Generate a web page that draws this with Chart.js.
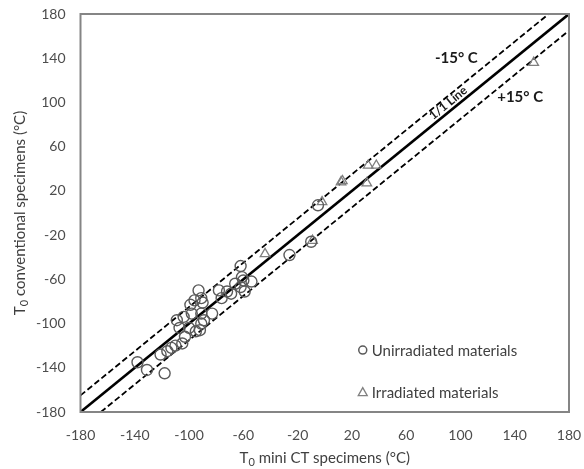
<!DOCTYPE html>
<html>
<head>
<meta charset="utf-8">
<script src="https://cdn.jsdelivr.net/npm/chart.js@4.4.0/dist/chart.umd.min.js"></script>
<style>
  html, body { margin: 0; padding: 0; background: #ffffff; }
  #wrap { width: 584px; height: 469px; position: relative; }
</style>
</head>
<body>
<div id="wrap"><canvas id="c"></canvas></div>
<script>
// Axis range and tick labels (°C)
const axisMin = -180;
const axisMax = 180;
const tickValues = [-180, -140, -100, -60, -20, 20, 60, 100, 140, 180];

// T0 from mini CT specimens (x) vs conventional specimens (y), °C
const unirradiated = [
  [-138, -135], [-131, -142], [-118, -145], [-121, -128], [-116, -125],
  [-113, -122], [-110, -120], [-105, -118], [-103, -112], [-107, -104],
  [-109, -97], [-104, -94], [-100, -104], [-99, -83], [-98, -91],
  [-96, -79], [-93, -70], [-91, -77], [-90, -81], [-91, -91],
  [-89, -97], [-91, -100], [-92, -106], [-95, -107], [-83, -91],
  [-78, -70], [-76, -77], [-72, -71], [-69, -73], [-66, -64],
  [-62, -67], [-59, -71], [-54, -62], [-61, -58], [-62, -48],
  [-60, -61], [-26, -38], [-10, -26], [-5, 7]
];
const irradiated = [
  [-44, -37], [-9, -25], [-2, 10], [12, 28], [13, 29],
  [31, 27], [32, 43], [38, 43], [154, 136]
];

// 1/1 reference line and the ±15 °C scatter band
const refEnds = [axisMin, axisMax];
const bandOffset = 15;

const oneToOne = refEnds.map(v => ({ x: v, y: v }));
const upperBand = [{ x: axisMin, y: axisMin + bandOffset }, { x: axisMax - bandOffset, y: axisMax }];
const lowerBand = [{ x: axisMin + bandOffset, y: axisMin }, { x: axisMax, y: axisMax - bandOffset }];

const toPoints = arr => arr.map(p => ({ x: p[0], y: p[1] }));

const FONT = "Lato, 'Open Sans', 'Liberation Sans', sans-serif";
const TEXT = '#4d4d4d';
const FRAME = '#858585';

// Frame, in-plot annotations, legend and axis titles with T0 subscript
const decorations = {
  id: 'decorations',
  afterDatasetsDraw(chart) {
    const { ctx, chartArea: a, scales: { x, y } } = chart;
    ctx.save();

    // plot frame
    ctx.strokeStyle = FRAME;
    ctx.lineWidth = 2;
    ctx.strokeRect(a.left, a.top, a.right - a.left, a.bottom - a.top);

    // band labels
    ctx.fillStyle = '#1a1a1a';
    ctx.font = "bold 15px " + FONT;
    ctx.textAlign = 'center';
    ctx.textBaseline = 'middle';
    ctx.fillText('-15° C', x.getPixelForValue(97), y.getPixelForValue(140));
    ctx.fillText('+15° C', x.getPixelForValue(144), y.getPixelForValue(105));

    // rotated 1/1 line label
    const ang = Math.atan2(
      y.getPixelForValue(axisMax) - y.getPixelForValue(axisMin),
      x.getPixelForValue(axisMax) - x.getPixelForValue(axisMin)
    );
    ctx.save();
    ctx.translate(x.getPixelForValue(91), y.getPixelForValue(99.5));
    ctx.rotate(ang);
    ctx.font = "bold 12px " + FONT;
    ctx.fillStyle = '#1a1a1a';
    ctx.fillText('1/1 Line', 0, 0);
    ctx.restore();

    // legend
    ctx.font = "15px " + FONT;
    ctx.fillStyle = '#404040';
    ctx.textAlign = 'left';
    const lx = x.getPixelForValue(28);
    const ly1 = y.getPixelForValue(-124);
    const ly2 = y.getPixelForValue(-162);
    ctx.strokeStyle = '#595959';
    ctx.lineWidth = 1.5;
    ctx.beginPath();
    ctx.arc(lx, ly1, 4, 0, Math.PI * 2);
    ctx.stroke();
    ctx.fillText('Unirradiated materials', lx + 9, ly1 + 1);
    ctx.strokeStyle = '#808080';
    ctx.lineWidth = 1.3;
    ctx.beginPath();
    ctx.moveTo(lx, ly2 - 4.5);
    ctx.lineTo(lx + 4.5, ly2 + 3.5);
    ctx.lineTo(lx - 4.5, ly2 + 3.5);
    ctx.closePath();
    ctx.stroke();
    ctx.fillText('Irradiated materials', lx + 9, ly2 + 1);

    // axis titles
    const drawSubTitle = (rest, cx, cy, rotate) => {
      ctx.save();
      ctx.translate(cx, cy);
      if (rotate) ctx.rotate(-Math.PI / 2);
      ctx.fillStyle = '#404040';
      ctx.textBaseline = 'alphabetic';
      ctx.textAlign = 'left';
      const big = "15px " + FONT, small = "11px " + FONT;
      ctx.font = big; const wT = ctx.measureText('T').width;
      ctx.font = small; const w0 = ctx.measureText('0').width;
      ctx.font = big; const wR = ctx.measureText(rest).width;
      let px = -(wT + w0 + wR) / 2;
      const base = 5;
      ctx.font = big; ctx.fillText('T', px, base); px += wT;
      ctx.font = small; ctx.fillText('0', px, base + 3); px += w0;
      ctx.font = big; ctx.fillText(rest, px, base);
      ctx.restore();
    };
    drawSubTitle(' mini CT specimens (°C)', (a.left + a.right) / 2, 458, false);
    drawSubTitle(' conventional specimens (°C)', 20, (a.top + a.bottom) / 2, true);

    ctx.restore();
  }
};

const lineStyle = (data, dash, width) => ({
  type: 'scatter',
  data,
  showLine: true,
  borderColor: '#000000',
  borderWidth: width,
  borderDash: dash,
  pointRadius: 0,
  pointHoverRadius: 0,
  fill: false,
  order: 2
});

new Chart(document.getElementById('c'), {
  type: 'scatter',
  data: {
    datasets: [
      lineStyle(oneToOne, [], 2.6),
      lineStyle(upperBand, [6, 3], 1.8),
      lineStyle(lowerBand, [6, 3], 1.8),
      {
        label: 'Unirradiated materials',
        data: toPoints(unirradiated),
        pointStyle: 'circle',
        pointRadius: 5.5,
        pointBorderWidth: 1.4,
        pointBorderColor: '#5a5a5a',
        pointBackgroundColor: 'rgba(0,0,0,0)',
        order: 1
      },
      {
        label: 'Irradiated materials',
        data: toPoints(irradiated),
        pointStyle: 'triangle',
        pointRadius: 5.5,
        pointBorderWidth: 1.3,
        pointBorderColor: '#7f7f7f',
        pointBackgroundColor: 'rgba(0,0,0,0)',
        order: 1
      }
    ]
  },
  options: {
    responsive: true,
    maintainAspectRatio: false,
    animation: false,
    events: [],
    layout: { padding: { top: 14, right: 15, left: 0, bottom: 0 } },
    plugins: { legend: { display: false }, tooltip: { enabled: false } },
    scales: {
      x: {
        type: 'linear',
        min: axisMin,
        max: axisMax,
        afterBuildTicks: s => { s.ticks = tickValues.map(v => ({ value: v })); },
        afterFit: s => { s.height = 57; s.paddingLeft = 0; s.paddingRight = 0; },
        grid: { display: false, drawTicks: false },
        border: { display: false },
        ticks: { color: TEXT, font: { size: 14, family: FONT }, padding: 15, maxRotation: 0 }
      },
      y: {
        type: 'linear',
        min: axisMin,
        max: axisMax,
        afterBuildTicks: s => { s.ticks = tickValues.map(v => ({ value: v })); },
        afterFit: s => { s.width = 80.5; s.paddingTop = 0; s.paddingBottom = 0; },
        grid: { display: false, drawTicks: false },
        border: { display: false },
        ticks: { color: TEXT, font: { size: 14, family: FONT }, padding: 15 }
      }
    }
  },
  plugins: [decorations]
});
</script>
</body>
</html>
